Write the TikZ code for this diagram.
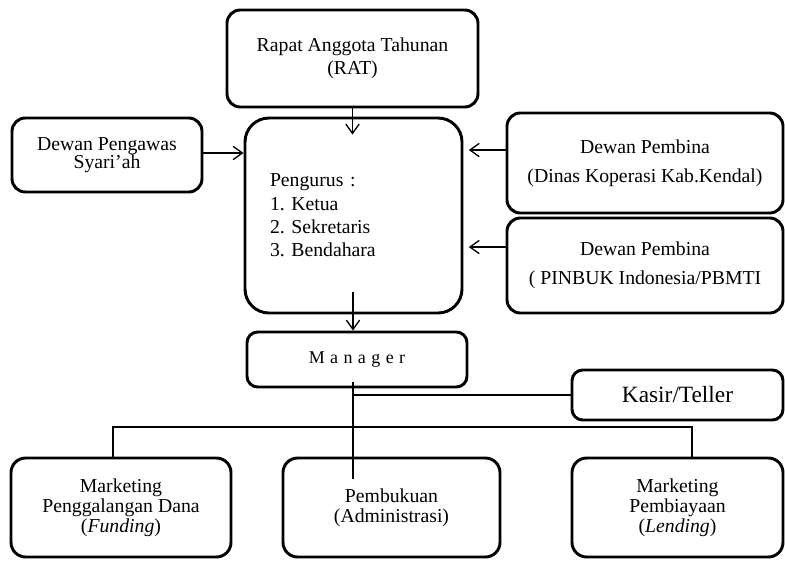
\documentclass[tikz,border=0pt]{standalone}
\usepackage{fontspec}
\setmainfont{Liberation Serif}
\usetikzlibrary{arrows.meta}
\frenchspacing

\begin{document}
\begin{tikzpicture}
  [x=0.75pt,y=-0.75pt,
   box/.style={rectangle,draw,line width=2.2pt,rounded corners=10pt,align=center,
     font=\fontsize{14.8}{17}\selectfont},
   lower/.style={box,minimum width=165pt,minimum height=74.25pt,rounded corners=11pt,
     font=\fontsize{14.8}{15}\selectfont},
   arr/.style={-{Straight Barb[length=7pt,width=10pt]},line width=1pt},
   line/.style={line width=1pt}]
  \useasboundingbox (0,0) rectangle (785,561);

  \node[box,minimum width=188.25pt,minimum height=72.75pt] (rat) at (352.5,58.5) {Rapat Anggota Tahunan\\(RAT)};
  \node[box,minimum width=142.5pt,minimum height=55.5pt] (pengawas) at (107,155) {Dewan Pengawas\\[-3pt]Syari'ah};
  \node[box,minimum width=162.75pt,minimum height=146.25pt,rounded corners=18pt,
        text width=125.25pt,inner xsep=18.75pt,align=left,
        font=\fontsize{14.8}{17.5}\selectfont] (pengurus) at (353.5,215.5)
        {Pengurus :\\1. Ketua\\2. Sekretaris\\3. Bendahara};
  \node[box,minimum width=207pt,minimum height=75pt] (dp1) at (645,163) {Dewan Pembina\\[5pt](Dinas Koperasi Kab.Kendal)};
  \node[box,minimum width=207pt,minimum height=71.25pt] (dp2) at (645,265.5) {Dewan Pembina\\[5pt]( PINBUK Indonesia/PBMTI};
  \node[box,minimum width=165pt,minimum height=41.25pt,rounded corners=8pt,
        font=\fontsize{13.5}{16}\selectfont\addfontfeature{LetterSpace=30}] (manager) at (357,359.5) {Manager};
  \node[box,minimum width=158.25pt,minimum height=37.5pt,rounded corners=8pt,
        font=\fontsize{17.5}{20}\selectfont] (kasir) at (677.5,395) {Kasir/Teller};
  \node[lower] (funding) at (121,507.5) {Marketing\\Penggalangan Dana\\(\textit{Funding})};
  \node[lower,minimum width=162.75pt] (pembukuan) at (391.5,507.5) {Pembukuan\\(Administrasi)};
  \node[lower,minimum width=158.25pt] (lending) at (677.5,507.5) {Marketing\\Pembiayaan\\(\textit{Lending})};

  \coordinate (bus) at (353,427);
  \coordinate (busl) at (113,427);
  \coordinate (busr) at (692,427);

  \draw[arr] (rat.south) -- ([yshift=-13.5pt]rat.south |- pengurus.north);
  \draw[arr] (pengawas.east |- 0,153) -- (pengurus.west |- 0,153);
  \foreach \src/\y in {dp1/150,dp2/247}
    \draw[arr] (\src.west |- 0,\y) -- ([xshift=4pt]pengurus.east |- 0,\y);
  \draw[arr] ([yshift=17pt]pengurus.south -| bus) -- (manager.north -| bus);
  \draw[line] ([yshift=5pt]manager.south -| bus) -- ([yshift=-16.5pt]pembukuan.north -| bus);
  \draw[line] (kasir.west) -- (kasir.west -| bus);
  \draw[line] (busl |- funding.north) -- (busl) -- (busr) -- (busr |- lending.north);

\end{tikzpicture}
\end{document}
